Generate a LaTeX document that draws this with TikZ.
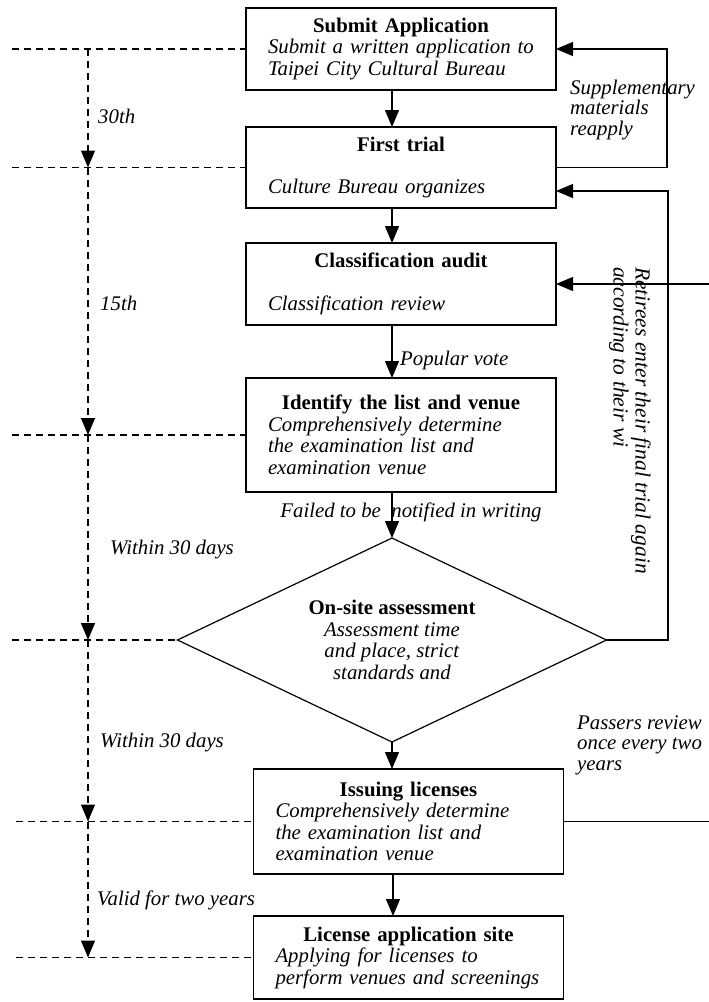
\documentclass[tikz,border=0pt]{standalone}
\usepackage{fontspec}
\setmainfont{Liberation Serif}
\usetikzlibrary{arrows.meta,positioning,shapes.geometric}

\begin{document}
\begin{tikzpicture}[x=1pt, y=-1pt,
    font=\fontsize{20.8}{21.5}\selectfont,
    stage/.style={draw, line width=1.2pt, align=left, text width=266pt,
                  inner xsep=22pt, inner ysep=0pt, outer sep=0pt},
    flow/.style={line width=1.2pt, arrows=-{Triangle[length=17pt,width=14pt]}},
    period/.style={line width=1.3pt, dash pattern=on 7pt off 5pt},
    note/.style={font=\fontsize{20.8}{20.5}\selectfont\itshape, align=left, inner sep=0pt}]
  \useasboundingbox (0,0) rectangle (709,1002);
  % Set up the stages of the main path
  \node(submit)[stage, minimum height=82pt] at (401,49)
    {{\centering\textbf{Submit Application}\par}\textit{Submit a written application to\\Taipei City Cultural Bureau}};
  \node[below=37pt of submit] (trial)[stage, minimum height=81pt]
    {{\centering\textbf{First trial}\par}\vspace{21pt}\textit{Culture Bureau organizes}};
  \node[below=35pt of trial] (audit)[stage, minimum height=82pt]
    {{\centering\textbf{Classification audit}\par}\vspace{21pt}\textit{Classification review}};
  \node[below=53pt of audit] (identify)[stage, minimum height=114pt]
    {{\centering\textbf{Identify the list and venue}\par}\textit{Comprehensively determine\\the examination list and\\examination venue}};
  % Assessment diamond
  \node[below=46pt of identify, xshift=-9pt] (onsite)[diamond, draw, line width=1.2pt, aspect=2.1,
        inner sep=0pt, outer sep=0pt, minimum width=429pt, minimum height=204pt, align=center]
    {\textbf{On-site assessment}\\\textit{Assessment time}\\\textit{and place, strict}\\\textit{standards and}};
  \node[below=27pt of onsite, xshift=16.5pt] (issue)[stage, minimum height=105pt]
    {{\centering\textbf{Issuing licenses}\par}\textit{Comprehensively determine\\the examination list and\\examination venue}};
  \node[below=42pt of issue] (license)[stage, minimum height=83pt]
    {{\centering\textbf{License application site}\par}\textit{Applying for licenses to\\perform venues and screenings}};
  % Arrows of the main path
  \coordinate (spine) at (392,0);
  \draw[flow] (submit.south -| spine) -- (trial.north -| spine);
  \draw[flow] (trial.south -| spine) -- (audit.north -| spine);
  \draw[flow] (audit.south -| spine) -- (identify.north -| spine);
  \draw[flow] (identify.south -| spine) -- (onsite.north);
  \draw[flow] (onsite.south) -- (issue.north -| spine);
  \draw[flow] ([xshift=1pt]issue.south -| spine) -- ([xshift=1pt]license.north -| spine);
  % Feedback loops on the right
  \draw[flow] (trial.east) -- ++(111,0) |- (submit.east);
  \draw[flow] (onsite.east) -- ++(61.5,0) |- ([yshift=-23.5pt]trial.east);
  \coordinate (border) at (709,0);
  \draw[flow] (audit.east -| border) -- (audit.east);
  \draw[line width=1.2pt] (issue.east) -- (issue.east -| border);
  % Time axis on the left
  \coordinate (axis) at (88,0);
  \coordinate (edge) at (12,0);
  \coordinate (edgelow) at (16,0);
  \draw[period] (edge |- submit.west) -- (submit.west);
  \draw[period] (edge |- trial.west) -- (trial.west);
  \draw[period] (edge |- identify.west) -- (identify.west);
  \draw[period] (edge |- onsite.west) -- (onsite.west);
  \draw[period] (edgelow |- issue.west) -- (issue.west);
  \draw[period] (edgelow |- license.west) -- (license.west);
  \draw[flow, period] (axis |- submit.west) -- (axis |- trial.west);
  \draw[flow, period] (axis |- trial.west) -- (axis |- identify.west);
  \draw[flow, period] (axis |- identify.west) -- (axis |- onsite.west);
  \draw[flow, period] (axis |- onsite.west) -- (axis |- issue.west);
  \draw[flow, period] (axis |- issue.west) -- (axis |- license.west);
  % Labels
  \node(vote)[note, anchor=west] at (400,360) {Popular vote};
  \node(failed)[note] at (411,512) {Failed to be\ \ notified in writing};
  \node(reapply)[note, anchor=west] at (570,110) {Supplementary\\materials\\reapply};
  \node(passers)[note, anchor=west] at (577,745) {Passers review\\once every two\\years};
  \node(retirees)[note, rotate=-90, anchor=north west, font=\fontsize{21.5}{22}\selectfont\itshape]
    at (651,267) {Retirees enter their final trial again\\according to their wi};
  \node(days30)[note, anchor=west] at (98,116) {30th};
  \node(days15)[note, anchor=west] at (100,303) {15th};
  \node(within1)[note, anchor=west] at (110,550) {Within 30 days};
  \node(within2)[note, anchor=west] at (100,743) {Within 30 days};
  \node(valid)[note, anchor=west] at (97,900) {Valid for two years};
\end{tikzpicture}
\end{document}
